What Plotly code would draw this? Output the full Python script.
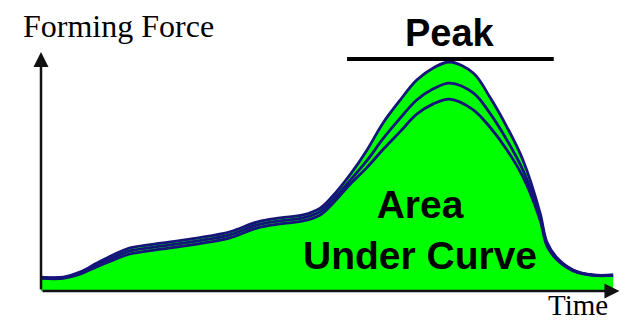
import plotly.graph_objects as go

# Forming force over time for three forming cycles (force in % of peak)
time = [0, 3.9, 6.8, 9.8, 12.6, 15.6, 21.4, 27.3, 33.1, 37.8, 41.9, 45.9, 48.9,
        51.1, 54.1, 57.1, 59.9, 62.9, 65.8, 68.7, 71.6, 75.7, 78.6, 81.6, 84.4,
        87.4, 88.6, 90.4, 93.2, 96.7, 100.2]
force_high = [6.1, 6.1, 8.3, 12.2, 15.7, 18.8, 21.0, 23.1, 25.8, 30.1, 31.9, 33.2, 36.2,
              41.5, 50.7, 61.6, 73.4, 83.4, 92.1, 97.4, 100.0, 95.2, 84.7, 71.6, 57.2,
              34.1, 21.4, 14.4, 9.2, 7.0, 7.0]
force_mid = [5.8, 5.8, 7.8, 11.4, 14.6, 17.5, 19.7, 21.8, 24.5, 28.8, 30.6, 31.9, 34.7,
             39.8, 48.2, 57.0, 66.5, 75.5, 83.4, 88.3, 90.8, 86.5, 77.7, 65.9, 52.8,
             32.4, 20.5, 14.0, 9.0, 6.9, 6.9]
force_low = [5.5, 5.5, 7.3, 10.6, 13.5, 16.2, 18.4, 20.5, 23.2, 27.5, 29.3, 30.6, 33.2,
             38.2, 46.5, 54.0, 61.8, 69.6, 77.2, 81.7, 83.8, 79.1, 71.6, 61.6, 49.8,
             31.0, 19.7, 13.5, 8.8, 6.8, 6.8]

axis_labels = ["Forming Force", "Time"]
peak_label = "Peak"
area_label = "Area<br>Under Curve"

GREEN = "#00FF00"
NAVY = "#14147a"

fig = go.Figure()

# filled area under the highest curve
fig.add_trace(go.Scatter(
    x=time, y=force_high, mode="lines", fill="tozeroy", fillcolor=GREEN,
    line=dict(color=NAVY, width=2.8, shape="spline", smoothing=1.0),
    hoverinfo="skip", showlegend=False,
))
for series in (force_mid, force_low):
    fig.add_trace(go.Scatter(
        x=time, y=series, mode="lines",
        line=dict(color=NAVY, width=2.8, shape="spline", smoothing=1.0),
        hoverinfo="skip", showlegend=False,
    ))

peak_value = max(force_high)
peak_time = time[force_high.index(peak_value)]

# horizontal bar marking the peak
fig.add_shape(
    type="line", xref="x", yref="y", ysizemode="pixel", yanchor=peak_value,
    x0=53.6, x1=89.8, y0=3, y1=3,
    line=dict(color="black", width=4),
)

# axes drawn as arrows
arrow_style = dict(showarrow=True, arrowhead=2, arrowsize=1.2, arrowwidth=2.5,
                   arrowcolor="#111111", text="", axref="x", ayref="y",
                   xref="x", yref="y", standoff=0)
fig.add_annotation(x=0, y=104.4, ax=0, ay=0, **arrow_style)
fig.add_annotation(x=101.3, y=0, ax=0, ay=0, **arrow_style)

serif = "Liberation Serif, Times New Roman, serif"
sans = "Liberation Sans, Arial, sans-serif"

fig.add_annotation(x=0.033, y=0.92, xref="paper", yref="paper", xanchor="left",
                   yanchor="middle", text=axis_labels[0], showarrow=False,
                   font=dict(family=serif, size=32, color="black"))
fig.add_annotation(x=0.93, y=0.055, xref="paper", yref="paper", xanchor="center",
                   yanchor="middle", text=axis_labels[1], showarrow=False,
                   font=dict(family=serif, size=29, color="black"))
fig.add_annotation(x=peak_time, y=112.7, xref="x", yref="y", xanchor="center",
                   yanchor="middle", text="<b>%s</b>" % peak_label, showarrow=False,
                   font=dict(family=sans, size=38, color="black"))
fig.add_annotation(x=66.4, y=26.5, xref="x", yref="y", xanchor="center",
                   yanchor="middle", text="<b>%s</b>" % area_label, showarrow=False,
                   font=dict(family=sans, size=39, color="black"))

fig.update_layout(
    width=622, height=323,
    margin=dict(l=0, r=0, t=0, b=0),
    paper_bgcolor="white", plot_bgcolor="white",
    xaxis=dict(range=[-7.18, 101.75], visible=False, fixedrange=True),
    yaxis=dict(range=[-13.97, 127.07], visible=False, fixedrange=True),
)

fig.write_html("out.html")
